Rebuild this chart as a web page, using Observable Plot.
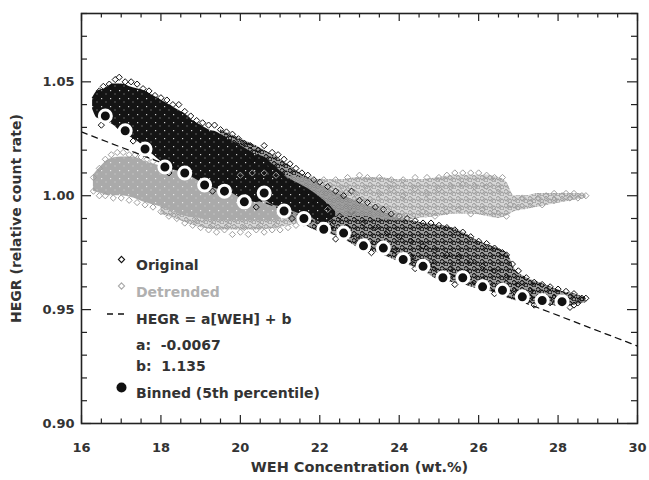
<!DOCTYPE html>
<html><head><meta charset="utf-8">
<script src="https://cdn.jsdelivr.net/npm/d3@7"></script>
<script src="https://cdn.jsdelivr.net/npm/@observablehq/plot@0.6"></script>
<style>body{margin:0;background:#fff}</style>
</head><body><div id="chart"></div>
<script>
// ---- axes / ticks ----
const xTicks = [16, 18, 20, 22, 24, 26, 28, 30];
const yTicks = [0.90, 0.95, 1.00, 1.05];

// ---- fit (legend values) ----
const fitA = -0.0067, fitB = 1.135;
const fitX = [16, 30];
const fitY = [1.028, 0.934];

// ---- binned (5th percentile) ----
const binX = [16.6,17.1,17.6,18.1,18.6,19.1,19.6,20.1,20.6,21.1,21.6,22.1,22.6,23.1,23.6,24.1,24.6,25.1,25.6,26.1,26.6,27.1,27.6,28.1];
const binY = [1.035,1.0285,1.0205,1.0126,1.010,1.0047,1.002,0.9973,1.0012,0.9933,0.990,0.9853,0.9836,0.978,0.977,0.972,0.969,0.964,0.964,0.960,0.9585,0.9556,0.954,0.9535];

// ---- original: dense core envelope ----
const origCoreX  = [16.28,16.4,16.6,16.8,17.0,17.2,17.4,17.6,17.8,18.0,18.2,18.4,18.6,18.8,19.0,19.2,19.4,19.6,19.8,20.0,20.2,20.4,20.6,20.8,21.0,21.2,21.5,21.8,22.1,22.4];
const origCoreLo = [1.038,1.034,1.033,1.031,1.028,1.026,1.024,1.021,1.018,1.015,1.012,1.011,1.010,1.008,1.006,1.004,1.003,1.002,1.001,0.999,0.998,0.997,0.998,0.996,0.995,0.994,0.992,0.990,0.988,0.991];
const origCoreHi = [1.043,1.046,1.047,1.049,1.049,1.048,1.047,1.046,1.044,1.042,1.040,1.038,1.036,1.033,1.031,1.029,1.028,1.026,1.024,1.022,1.020,1.018,1.017,1.014,1.011,1.008,1.005,1.002,0.998,0.993];
// ---- original: sparser envelope ----
const origMeshX  = [19.5,20.0,20.5,21.0,21.5,22.0,22.3,22.6,23.0,23.3,23.6,24.0,24.3,24.6,25.0,25.3,25.6,26.0,26.3,26.6,26.75,26.9,27.2,27.5,27.8,28.1,28.4,28.7];
const origMeshLo = [1.001,0.997,0.994,0.991,0.988,0.984,0.983,0.981,0.977,0.976,0.974,0.971,0.969,0.967,0.963,0.962,0.961,0.959,0.958,0.956,0.955,0.954,0.953,0.952,0.952,0.951,0.952,0.953];
const origMeshHi = [1.029,1.025,1.021,1.016,1.010,1.005,1.002,1.000,0.997,0.995,0.993,0.990,0.989,0.988,0.987,0.986,0.984,0.980,0.978,0.976,0.974,0.968,0.964,0.962,0.960,0.958,0.957,0.955];
// ---- original: individual diamonds ----
const origX = [16.35,16.45,16.55,16.7,16.85,16.95,17.1,17.25,17.4,17.55,17.7,17.85,18.0,18.15,18.3,18.45,18.6,18.75,18.9,19.05,19.2,19.35,19.5,19.65,19.8,19.95,20.1,20.25,20.45,20.6,20.8,20.95,21.1,21.25,21.4,21.55,21.7,21.85,22.0,22.2,22.4,22.6,22.8,23.0,23.2,23.4,23.6,23.8,24.0,24.2,24.4,24.6,24.8,25.0,25.2,25.4,25.6,25.8,26.0,26.2,26.4,26.6,26.7,26.85,27.0,27.2,27.4,27.6,27.8,28.0,28.2,28.4,28.6,28.7,
  20.3,20.7,21.0,21.3,21.6,21.9,22.2,22.5,22.8,23.1,23.4,23.7,24.0,24.3,24.6,24.9,25.2,25.5,25.8,26.1,26.4,26.7,27.0,27.3,27.6,27.9,28.2,28.5,
  22.3,22.7,23.0,23.5,23.9,24.3,24.8,25.3,25.7,26.1,26.5,26.9,27.3,27.8,28.3,
  16.5,17.3,18.2,19.3,20.4,21.3,22.4,23.3,24.4,25.4,26.4,27.4,28.4];
const origY = [1.043,1.046,1.048,1.049,1.051,1.052,1.050,1.050,1.049,1.047,1.046,1.044,1.043,1.042,1.040,1.040,1.037,1.035,1.033,1.032,1.031,1.031,1.029,1.028,1.027,1.025,1.023,1.022,1.020,1.022,1.019,1.018,1.016,1.014,1.012,1.010,1.009,1.007,1.006,1.004,1.002,1.000,1.002,0.998,0.997,0.995,0.994,0.992,0.991,0.990,0.989,0.988,0.988,0.987,0.986,0.985,0.984,0.982,0.980,0.979,0.977,0.975,0.974,0.970,0.967,0.964,0.962,0.961,0.960,0.959,0.958,0.957,0.955,0.955,
  1.016,1.012,1.008,1.005,1.001,0.997,0.995,0.991,0.993,0.988,0.986,0.984,0.982,0.980,0.978,0.976,0.974,0.973,0.971,0.969,0.967,0.964,0.961,0.958,0.956,0.955,0.954,0.953,
  0.987,0.986,0.981,0.979,0.976,0.973,0.971,0.968,0.966,0.963,0.960,0.958,0.955,0.953,0.951,
  1.031,1.024,1.010,1.002,0.995,0.990,0.981,0.975,0.968,0.961,0.957,0.952,0.952];

// ---- detrended: dense core envelope ----
const detCoreX  = [16.3,16.5,16.7,17.0,17.3,17.6,18.0,18.3,18.6,19.0,19.3,19.6,20.0,20.4,20.8,21.2];
const detCoreLo = [1.002,1.001,1.000,1.000,0.999,0.997,0.995,0.993,0.991,0.990,0.989,0.989,0.989,0.989,0.989,0.990];
const detCoreHi = [1.009,1.013,1.016,1.017,1.017,1.015,1.013,1.012,1.010,1.008,1.007,1.006,1.007,1.007,1.006,1.004];
// ---- detrended: sparser envelope ----
const detMeshX  = [18.0,18.5,19.0,19.5,20.0,20.5,21.0,21.5,22.0,22.5,23.0,23.5,24.0,24.5,25.0,25.4,25.8,26.2,26.5,26.7,26.9,27.2,27.5,27.8,28.1,28.4,28.7];
const detMeshLo = [0.992,0.989,0.986,0.985,0.985,0.985,0.986,0.988,0.990,0.991,0.991,0.990,0.989,0.990,0.991,0.992,0.992,0.991,0.990,0.991,0.993,0.994,0.995,0.996,0.997,0.998,0.999];
const detMeshHi = [1.013,1.011,1.009,1.008,1.009,1.010,1.009,1.008,1.007,1.007,1.008,1.008,1.007,1.007,1.008,1.009,1.009,1.009,1.008,1.006,1.000,1.000,1.001,1.001,1.001,1.001,1.0005];
// ---- detrended: individual diamonds ----
const detX = [16.3,16.45,16.6,16.75,16.9,17.05,17.2,17.35,17.5,17.65,17.8,
  16.3,16.45,16.6,16.8,17.0,17.2,17.4,17.6,17.8,18.0,18.2,18.4,18.6,18.8,19.0,19.2,19.4,19.6,19.8,20.0,20.2,20.4,20.6,20.8,21.0,21.2,21.4,21.6,21.8,
  18.9,19.3,19.7,20.1,20.5,20.9,
  20.0,20.3,20.6,20.9,21.2,21.5,21.8,22.1,22.4,22.7,23.0,23.2,23.5,23.8,24.1,24.4,24.7,25.0,25.2,25.4,25.6,25.8,26.0,26.2,26.4,26.6,
  22.0,22.3,22.6,22.9,23.2,23.5,23.8,24.1,24.4,24.7,25.0,25.3,25.6,25.9,26.2,26.5,
  22.2,22.5,22.8,23.1,23.4,23.7,24.0,24.3,24.6,24.9,25.2,25.5,25.8,26.1,26.4,26.7,
  26.8,27.0,27.1,27.3,27.5,27.6,27.7,27.9,27.9,28.1,28.2,28.3,28.4,28.5,28.6,28.7];
const detY = [1.008,1.012,1.016,1.018,1.019,1.019,1.018,1.018,1.017,1.016,1.015,
  1.002,1.000,1.000,0.999,0.999,0.998,0.997,0.996,0.995,0.993,0.991,0.990,0.988,0.987,0.986,0.985,0.984,0.985,0.983,0.984,0.983,0.985,0.984,0.985,0.985,0.986,0.987,0.988,0.989,
  0.989,0.987,0.987,0.986,0.987,0.987,
  1.009,1.010,1.010,1.009,1.009,1.008,1.007,1.007,1.007,1.008,1.009,1.008,1.008,1.007,1.007,1.008,1.008,1.008,1.009,1.010,1.010,1.010,1.010,1.009,1.008,1.008,
  1.002,1.000,1.003,1.001,1.003,1.001,1.003,1.000,1.003,1.001,1.003,1.004,1.005,1.004,1.004,1.003,
  0.994,0.996,0.993,0.995,0.992,0.994,0.991,0.989,0.993,0.991,0.993,0.994,0.992,0.994,0.993,0.991,
  0.996,0.995,0.999,0.997,0.999,0.996,1.000,1.001,0.998,1.000,1.001,0.999,1.001,0.999,1.000,1.000];

// ---- legend labels ----
const legendLabels = ["Original", "Detrended", "HEGR = a[WEH] + b", "a:  -0.0067", "b:  1.135", "Binned (5th percentile)"];

// ---- build tables ----
const env = (xs, lo, hi) => xs.map((x, i) => ({x, lo: lo[i], hi: hi[i]}));
const pts = (xs, ys) => xs.map((x, i) => ({x, y: ys[i]}));
const origCore = env(origCoreX, origCoreLo, origCoreHi);
const origMesh = env(origMeshX, origMeshLo, origMeshHi);
const detCore = env(detCoreX, detCoreLo, detCoreHi);
const detMesh = env(detMeshX, detMeshLo, detMeshHi);
const origPts = pts(origX, origY);
const detPts = pts(detX, detY);
const binned = pts(binX, binY);
const fit = pts(fitX, fitY);

const W = 649, H = 480, mL = 81, mR = 12, mT = 13, mB = 57;
const iW = W - mL - mR, iH = H - mT - mB;
const xMinor = d3.range(32).map(i => 16 + i * 0.5).filter(v => v <= 30 && v % 2 !== 0);
const yMinor = d3.range(19).map(i => +(0.90 + i * 0.01).toFixed(2)).filter(v => !yTicks.some(t => Math.abs(t - v) < 1e-9));

const ink = "#222";
const txt = "#333";
const gray = "#9e9e9e";

const L = (i) => ({frameAnchor: "top-left", dx: 54.5, dy: [247, 273.5, 301, 326.5, 347.5, 375][i]});
const area = (data, fill, extra = {}) => Plot.areaY(data, {x: "x", y1: "lo", y2: "hi", fill, curve: "monotone-x", ...extra});

const chart = Plot.plot({
  width: W, height: H,
  marginLeft: mL, marginRight: mR, marginTop: mT, marginBottom: mB,
  x: {domain: [16, 30]},
  y: {domain: [0.90, 1.08]},
  style: {fontFamily: "DejaVu Sans", fontWeight: "bold", fontSize: "13px", color: txt, background: "#fff"},
  marks: [
    // sparse (lattice) parts of both clouds
    area(origMesh, "#000", {fillOpacity: 0.38}),
    area(origMesh, "url(#mesh-k)"),
    area(detMesh, "#9a9a9a", {fillOpacity: 0.4}),
    area(detMesh, "url(#mesh-g)"),
    // dense parts
    area(detCore, "url(#core-g)"),
    area(origCore, "url(#core-k)"),
    Plot.dot(origPts, {x: "x", y: "y", symbol: "diamond2", r: 2.8, stroke: "#111", strokeWidth: 1, fill: "none"}),
    Plot.dot(detPts, {x: "x", y: "y", symbol: "diamond2", r: 2.8, stroke: gray, strokeWidth: 1, fill: "none"}),
    // fit line
    Plot.line(fit, {x: "x", y: "y", stroke: "#111", strokeWidth: 1.25, strokeDasharray: "6,5"}),
    // binned
    Plot.dot(binned, {x: "x", y: "y", r: 6, fill: "#111", stroke: "#fff", strokeWidth: 3}),
    // frame + inward ticks
    Plot.frame({stroke: ink, strokeWidth: 1.6}),
    Plot.tickX(xTicks, {x: d => d, insetTop: iH - 8, stroke: ink, strokeWidth: 1.2}),
    Plot.tickX(xTicks, {x: d => d, insetBottom: iH - 8, stroke: ink, strokeWidth: 1.2}),
    Plot.tickX(xMinor, {x: d => d, insetTop: iH - 4.5, stroke: ink, strokeWidth: 1.2}),
    Plot.tickX(xMinor, {x: d => d, insetBottom: iH - 4.5, stroke: ink, strokeWidth: 1.2}),
    Plot.tickY(yTicks, {y: d => d, insetRight: iW - 10, stroke: ink, strokeWidth: 1.2}),
    Plot.tickY(yTicks, {y: d => d, insetLeft: iW - 10, stroke: ink, strokeWidth: 1.2}),
    Plot.tickY(yMinor, {y: d => d, insetRight: iW - 6, stroke: ink, strokeWidth: 1.2}),
    Plot.tickY(yMinor, {y: d => d, insetLeft: iW - 6, stroke: ink, strokeWidth: 1.2}),
    // axes labels
    Plot.axisX(xTicks, {anchor: "bottom", tickSize: 0, tickPadding: 19, label: null, tickFormat: d => String(d), fontSize: 13}),
    Plot.axisY(yTicks, {anchor: "left", tickSize: 0, tickPadding: 7, label: null, tickFormat: d3.format(".2f"), fontSize: 13}),
    Plot.text(["WEH Concentration (wt.%)"], {frameAnchor: "bottom", dy: 48, fontSize: 14.5, fill: txt}),
    Plot.text(["HEGR (relative count rate)"], {frameAnchor: "left", dx: -65, rotate: -90, textAnchor: "middle", fontSize: 14, fill: txt}),
    // legend
    Plot.dot([0], {frameAnchor: "top-left", dx: 40, dy: 246, symbol: "diamond2", r: 2.8, stroke: "#111", strokeWidth: 1.1}),
    Plot.dot([0], {frameAnchor: "top-left", dx: 40, dy: 272.5, symbol: "diamond2", r: 2.8, stroke: "#aaa", strokeWidth: 1.1}),
    Plot.dot([0], {frameAnchor: "top-left", dx: 40, dy: 374, r: 5, fill: "#111"}),
    Plot.text([legendLabels[0]], {...L(0), textAnchor: "start", fontSize: 14, fill: txt}),
    Plot.text([legendLabels[1]], {...L(1), textAnchor: "start", fontSize: 14, fill: "#b0b0b0"}),
    Plot.text([legendLabels[2]], {...L(2), textAnchor: "start", fontSize: 14, fill: txt}),
    Plot.text([legendLabels[3]], {...L(3), textAnchor: "start", fontSize: 14, fill: txt}),
    Plot.text([legendLabels[4]], {...L(4), textAnchor: "start", fontSize: 14, fill: txt}),
    Plot.text([legendLabels[5]], {...L(5), textAnchor: "start", fontSize: 14, fill: txt})
  ]
});
// fill patterns (texture of overlapping open diamonds)
d3.select(chart).insert("defs", ":first-child").html(`
  <pattern id="mesh-k" width="8" height="7" patternUnits="userSpaceOnUse">
    <path d="M2,0.2L4.4,2.6L2,5L-0.4,2.6Z" fill="none" stroke="#111" stroke-width="1.1"/>
    <path d="M6,2.8L8.4,5.2L6,7.6L3.6,5.2Z" fill="none" stroke="#111" stroke-width="1.1"/>
  </pattern>
  <pattern id="mesh-g" width="8" height="7" patternUnits="userSpaceOnUse">
    <path d="M2,0.2L4.4,2.6L2,5L-0.4,2.6Z" fill="none" stroke="#a0a0a0" stroke-width="1.1"/>
    <path d="M6,2.8L8.4,5.2L6,7.6L3.6,5.2Z" fill="none" stroke="#a0a0a0" stroke-width="1.1"/>
  </pattern>
  <pattern id="core-k" width="9" height="8" patternUnits="userSpaceOnUse">
    <rect width="9" height="8" fill="#141414"/>
    <rect x="2" y="2" width="1.2" height="1.2" fill="#fff" opacity="0.8"/>
    <rect x="6.5" y="5.5" width="1" height="1" fill="#fff" opacity="0.6"/>
  </pattern>
  <pattern id="core-g" width="9" height="8" patternUnits="userSpaceOnUse">
    <rect width="9" height="8" fill="#aaaaaa"/>
    <rect x="2" y="2" width="1.2" height="1.2" fill="#fff" opacity="0.7"/>
    <rect x="6.5" y="5.5" width="1" height="1" fill="#fff" opacity="0.5"/>
  </pattern>`);
// legend dashed segment (pixel-space legend decoration)
d3.select(chart).append("line")
  .attr("x1", mL + 26).attr("x2", mL + 45)
  .attr("y1", mT + 301).attr("y2", mT + 301)
  .attr("stroke", "#111").attr("stroke-width", 1.3).attr("stroke-dasharray", "6,5");
d3.select(chart).selectAll("text").style("white-space", "pre");
document.getElementById("chart").append(chart);
</script>
</body></html>
